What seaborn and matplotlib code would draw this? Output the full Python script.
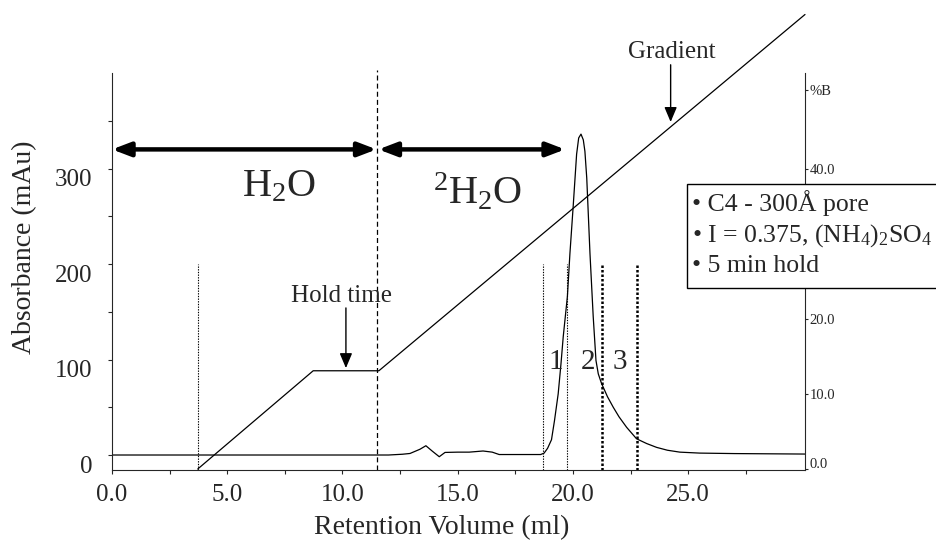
import matplotlib
matplotlib.use("Agg")
import matplotlib.pyplot as plt
import seaborn as sns
from matplotlib.patches import Rectangle
from matplotlib.transforms import ScaledTranslation

# ---------------- data ----------------
volume_ml = [0.0, 12.0, 12.6, 12.93, 13.36, 13.62, 13.9, 14.2, 14.45, 15.0, 15.5,
             16.1, 16.5, 16.8, 18.6, 18.75, 18.9, 19.07, 19.2, 19.36, 19.48, 19.58,
             19.76, 19.87, 20.01, 20.16, 20.25, 20.35, 20.45, 20.52, 20.6, 20.74,
             20.88, 21.0, 21.1, 21.24, 21.5, 21.75, 22.0, 22.33, 22.76, 23.2, 23.63,
             24.1, 24.64, 25.5, 27.0, 30.07]
absorbance_mau = [0.0, 0.0, 0.8, 1.6, 6.0, 9.7, 4.0, -1.8, 2.7, 3.0, 3.0,
                  4.2, 3.0, 0.5, 0.5, 2.0, 7.0, 16.0, 36.0, 64.0, 95.0, 124.0,
                  166.0, 211.0, 260.0, 315.0, 332.0, 336.0, 330.0, 318.0, 290.0, 211.0,
                  145.0, 99.0, 85.0, 75.0, 61.0, 50.0, 40.0, 29.0, 17.0, 12.0, 8.0,
                  5.0, 3.0, 2.0, 1.5, 1.0]

gradient_ml = [3.72, 8.73, 11.58, 30.07]
gradient_pctB = [0.0, 13.1, 13.1, 60.6]

injection_ml = 3.72
switch_ml = 11.48
fraction_cuts_ml = [18.71, 19.76, 21.25, 22.77]
fraction_labels = ["1", "2", "3"]
fraction_label_x = [19.26, 20.67, 22.04]

x_ticks = [0, 5, 10, 15, 20, 25]
x_ticklabels = ["0.0", "5.0", "10.0", "15.0", "20.0", "25.0"]
y_ticks = [0, 100, 200, 300]
y_ticklabels = ["0", "100", "200", "300"]
b_ticks = [0, 10, 20, 40, 50.5]
b_ticklabels = ["0.0", "10.0", "20.0", "40.0", "%B"]

legend_lines = ["\u2022 C4 - 300\u00c5 pore",
                "\u2022 I = 0.375, (NH$_4$)$_2$SO$_4$",
                "\u2022 5 min hold"]

# ---------------- style ----------------
sns.set_style("ticks")
plt.rcParams["font.family"] = ["Liberation Serif", "DejaVu Serif"]
plt.rcParams["mathtext.fontset"] = "custom"
plt.rcParams["mathtext.rm"] = "Liberation Serif"
plt.rcParams["mathtext.it"] = "Liberation Serif:italic"
plt.rcParams["mathtext.bf"] = "Liberation Serif:bold"
plt.rcParams["axes.linewidth"] = 0.8

W, H = 936, 541
fig = plt.figure(figsize=(W / 100, H / 100), dpi=100)
fig.patch.set_facecolor("white")
L, R, T, B = 112, 805, 73, 470
ax = fig.add_axes([L / W, (H - B) / H, (R - L) / W, (B - T) / H])

sns.lineplot(x=volume_ml, y=absorbance_mau, ax=ax, color="black", lw=0.9,
             sort=False, estimator=None)
ax.set_xlim(0, 30.07)
ax.set_ylim(-15.7, 400)

ax2 = ax.twinx()
sns.lineplot(x=gradient_ml, y=gradient_pctB, ax=ax2, color="black", lw=0.9,
             sort=False, estimator=None)
ax2.lines[-1].set_clip_on(False)
ax2.set_ylim(-0.13, 52.8)

# spines
for a in (ax, ax2):
    a.spines["top"].set_visible(False)
    a.set_xlabel("")
    a.set_ylabel("")
ax.spines["right"].set_visible(False)
ax2.spines["right"].set_visible(True)
ax2.spines["left"].set_visible(False)
ax2.spines["bottom"].set_visible(False)

# ticks
ax.set_xticks(x_ticks)
ax.set_xticklabels(x_ticklabels)
ax.set_xticks([2.5, 7.5, 12.5, 17.5, 22.5, 27.5], minor=True)
ax.set_yticks(y_ticks)
ax.set_yticklabels(y_ticklabels)
ax.set_yticks([50, 150, 250, 350], minor=True)
ax.tick_params(axis="both", which="both", direction="out", length=3, width=0.8)
ax.tick_params(axis="x", which="major", labelsize=18, pad=7)
ax.tick_params(axis="y", which="major", labelsize=18, pad=11)
for tk in ax.yaxis.get_major_ticks():
    tk.label1.set_transform(tk.label1.get_transform()
                            + ScaledTranslation(0, -0.09, fig.dpi_scale_trans))

ax2.set_yticks(b_ticks)
ax2.set_yticklabels(b_ticklabels)
ax2.tick_params(axis="y", direction="out", length=2.5, width=0.8, labelsize=10.5, pad=1)
for tk, lab in zip(ax2.yaxis.get_major_ticks(), b_ticklabels):
    if lab == "0.0":
        tk.label2.set_transform(tk.label2.get_transform()
                                + ScaledTranslation(0, 0.06, fig.dpi_scale_trans))

ax.set_xlabel("Retention Volume (ml)", fontsize=20)
ax.xaxis.set_label_coords(0.476, -0.113)
ax.set_ylabel("Absorbance (mAu)", fontsize=20)
ax.yaxis.set_label_coords(-0.108, 0.56)

# reference lines
thin = dict(color="black", lw=0.8, ls=(0, (1.2, 1.2)))
thick = dict(color="black", lw=1.8, ls=(0, (1.0, 0.8)))
ax.plot([injection_ml, injection_ml], [-15.7, 200], **thin)
for i, xc in enumerate(fraction_cuts_ml):
    style = thin if i < 2 else thick
    ax.plot([xc, xc], [-15.7, 200], **style)
ax.plot([switch_ml, switch_ml], [-15.7, 403], color="black", lw=0.9,
        ls=(0, (4, 2.5)), clip_on=False)

for lab, xl in zip(fraction_labels, fraction_label_x):
    ax.text(xl, 97, lab, fontsize=21, ha="center", va="center")

# double arrows for solvent phases
arr = dict(arrowstyle="<|-|>,head_length=1.1,head_width=0.42", lw=3.2,
           color="black", shrinkA=0, shrinkB=0)
ax.annotate("", xy=(0.0, 320), xytext=(switch_ml, 320), arrowprops=arr,
            annotation_clip=False)
ax.annotate("", xy=(switch_ml + 0.08, 320), xytext=(19.66, 320), arrowprops=arr,
            annotation_clip=False)
ax.text(7.25, 281, "H$_2$O", fontsize=29, ha="center", va="center")
ax.text(15.86, 275, "$^2$H$_2$O", fontsize=29, ha="center", va="center")

# hold time / gradient annotations
sarr = dict(arrowstyle="-|>,head_length=0.9,head_width=0.38", lw=1.0,
            color="black", shrinkA=0, shrinkB=0)
ax.text(9.96, 166, "Hold time", fontsize=18, ha="center", va="center")
ax.annotate("", xy=(10.15, 91), xytext=(10.15, 154), arrowprops=sarr)
ax.text(24.29, 421.5, "Gradient", fontsize=18, ha="center", va="center", clip_on=False)
ax.annotate("", xy=(24.24, 348.7), xytext=(24.24, 408.6), arrowprops=sarr,
            annotation_clip=False)

# legend-like box
rect = Rectangle((687 / W, 1 - 288 / H), (W + 10 - 687) / W, (288 - 184) / H,
                 transform=fig.transFigure, facecolor="white", edgecolor="black",
                 lw=1.0, zorder=5)
fig.add_artist(rect)
for txt, yy in zip(legend_lines, [203, 236, 266]):
    fig.text(692 / W, 1 - yy / H, txt, fontsize=18.5, ha="left", va="center", zorder=6)

fig.savefig("out.png", dpi=100)
